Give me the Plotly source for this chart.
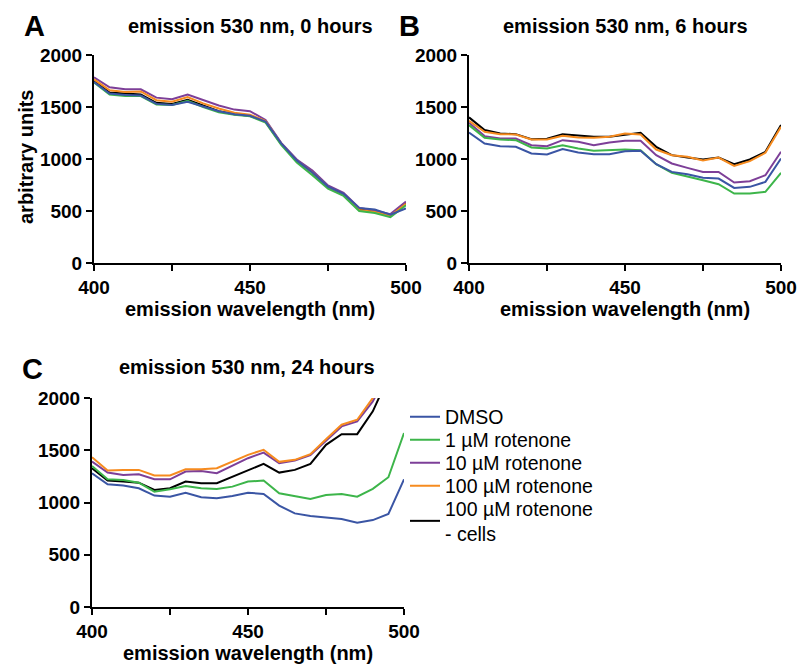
import plotly.graph_objects as go

wavelength = list(range(400, 505, 5))

series_names = ["DMSO", "1 µM rotenone", "10 µM rotenone", "100 µM rotenone", "100 µM rotenone<br>- cells"]
colors = ["#3A55A4", "#3DB54A", "#7D3F98", "#F68B1F", "#000000"]

# Panel A: 0 hours
a_dmso = [1740, 1630, 1615, 1610, 1530, 1520, 1550, 1505, 1460, 1430, 1415, 1360, 1150, 985, 870, 735, 665, 530, 515, 465, 525]
a_r1 = [1735, 1620, 1605, 1605, 1525, 1520, 1560, 1500, 1450, 1425, 1410, 1350, 1135, 965, 845, 715, 645, 500, 480, 440, 555]
a_r10 = [1785, 1690, 1670, 1670, 1590, 1575, 1620, 1565, 1515, 1475, 1460, 1375, 1155, 995, 890, 745, 675, 530, 505, 470, 590]
a_r100 = [1765, 1660, 1645, 1650, 1565, 1550, 1595, 1535, 1485, 1445, 1425, 1365, 1145, 980, 870, 730, 655, 510, 490, 455, 570]
a_nocell = [1755, 1640, 1630, 1620, 1540, 1530, 1570, 1515, 1460, 1430, 1415, 1360, 1145, 985, 875, 735, 665, 520, 500, 460, 580]

# Panel B: 6 hours
b_dmso = [1255, 1149, 1123, 1117, 1053, 1043, 1095, 1063, 1046, 1046, 1075, 1079, 950, 876, 854, 819, 812, 722, 732, 780, 1005]
b_r1 = [1326, 1204, 1188, 1181, 1111, 1101, 1133, 1101, 1079, 1085, 1091, 1085, 950, 867, 828, 796, 758, 668, 668, 684, 867]
b_r10 = [1348, 1220, 1197, 1197, 1133, 1123, 1181, 1165, 1133, 1159, 1175, 1175, 1037, 957, 915, 876, 876, 774, 786, 844, 1069]
b_r100 = [1367, 1262, 1239, 1236, 1188, 1188, 1223, 1207, 1204, 1213, 1245, 1236, 1091, 1037, 1021, 985, 1014, 934, 979, 1059, 1310]
b_nocell = [1400, 1278, 1245, 1239, 1191, 1194, 1239, 1223, 1213, 1213, 1236, 1252, 1117, 1037, 1014, 995, 1014, 950, 995, 1069, 1326]

# Panel C: 24 hours
c_dmso = [1280, 1174, 1162, 1136, 1066, 1056, 1094, 1050, 1040, 1062, 1094, 1082, 970, 896, 870, 854, 842, 806, 832, 890, 1222]
c_r1 = [1350, 1222, 1216, 1190, 1104, 1126, 1158, 1136, 1130, 1152, 1200, 1210, 1088, 1062, 1034, 1072, 1082, 1056, 1130, 1242, 1664]
c_r10 = [1392, 1286, 1264, 1270, 1222, 1222, 1296, 1302, 1280, 1350, 1424, 1478, 1376, 1402, 1453, 1590, 1728, 1776, 1968, 2250, 2500]
c_r100 = [1434, 1306, 1312, 1312, 1258, 1258, 1318, 1318, 1328, 1392, 1456, 1504, 1389, 1408, 1462, 1606, 1744, 1792, 2000, 2300, 2550]
c_nocell = [1328, 1210, 1200, 1190, 1120, 1136, 1200, 1184, 1184, 1248, 1312, 1370, 1286, 1312, 1370, 1552, 1654, 1654, 1872, 2200, 2450]

panels = {
    "A": [a_dmso, a_r1, a_r10, a_r100, a_nocell],
    "B": [b_dmso, b_r1, b_r10, b_r100, b_nocell],
    "C": [c_dmso, c_r1, c_r10, c_r100, c_nocell],
}
titles = ["emission 530 nm, 0 hours", "emission 530 nm, 6 hours", "emission 530 nm, 24 hours"]
x_ticks = [400, 450, 500]
y_ticks = [0, 500, 1000, 1500, 2000]

W, H = 800, 664
FONT = "Liberation Sans, Arial, sans-serif"

fig = go.Figure()

axes_ids = {"A": ("x", "y"), "B": ("x2", "y2"), "C": ("x3", "y3")}
draw_order = [4, 2, 3, 1, 0]
legend_ids = ["legend", "legend2", "legend3", "legend4", "legend5"]
for p, (xa, ya) in axes_ids.items():
    for i in draw_order:
        fig.add_trace(go.Scatter(
            x=wavelength, y=panels[p][i], mode="lines",
            line=dict(color=colors[i], width=2),
            name=series_names[i], xaxis=xa, yaxis=ya,
            showlegend=(p == "C"), legend=legend_ids[i],
            hoverinfo="skip",
        ))

def px_x(v):
    return v / W

def px_y(v):
    return 1 - v / H

axis_common = dict(
    showline=True, linecolor="black", linewidth=2, mirror=False,
    showgrid=False, zeroline=False, ticks="outside", ticklen=6, tickwidth=1.5,
    tickcolor="black", tickfont=dict(family=FONT, size=19, color="black", weight="bold"),
    automargin=False,
)
xdoms = {"A": (94, 406), "B": (469, 781), "C": (92, 404)}
ydoms = {"A": (55, 263), "B": (55, 263), "C": (398, 607)}
layout = {}
for p, (xa, ya) in axes_ids.items():
    xk = "xaxis" + xa[1:]
    yk = "yaxis" + ya[1:]
    layout[xk] = dict(axis_common, domain=[px_x(xdoms[p][0]), px_x(xdoms[p][1])], range=[400, 500],
                      tickvals=x_ticks, anchor=ya,
                      minor=dict(ticks="outside", ticklen=6, tickwidth=1.5, tickcolor="black", tick0=400, dtick=25))
    layout[yk] = dict(axis_common, domain=[px_y(ydoms[p][1]), px_y(ydoms[p][0])], range=[0, 2000],
                      tickvals=y_ticks, anchor=xa)

annotations = []
def text(x, y, s, size=20, bold=True, angle=0, xanchor="center"):
    annotations.append(dict(
        x=px_x(x), y=px_y(y), xref="paper", yref="paper", text=s, showarrow=False,
        xanchor=xanchor, yanchor="middle", textangle=angle,
        font=dict(family=FONT, size=size, color="black", weight="bold" if bold else "normal"),
    ))

text(22, 26, "A", size=29, xanchor="left")
text(397, 26, "B", size=29, xanchor="left")
text(20, 369, "C", size=29, xanchor="left")
text(250, 26, titles[0])
text(625, 26, titles[1])
text(247, 367, titles[2])
text(250, 309, "emission wavelength (nm)")
text(625, 309, "emission wavelength (nm)")
text(248, 653, "emission wavelength (nm)")
text(26, 157, "arbitrary units", angle=-90)

legend_rows = [417, 440, 463, 486, 521]
for i, lid in enumerate(legend_ids):
    layout[lid] = dict(
        x=px_x(405), y=px_y(legend_rows[i]), xanchor="left", yanchor="middle",
        bgcolor="rgba(0,0,0,0)", borderwidth=0,
        font=dict(family=FONT, size=19.5, color="black"),
    )

fig.update_layout(
    width=W, height=H, margin=dict(l=0, r=0, t=0, b=0, pad=0, autoexpand=False),
    plot_bgcolor="white", paper_bgcolor="white",
    annotations=annotations, **layout,
)

fig.write_html("out.html")
